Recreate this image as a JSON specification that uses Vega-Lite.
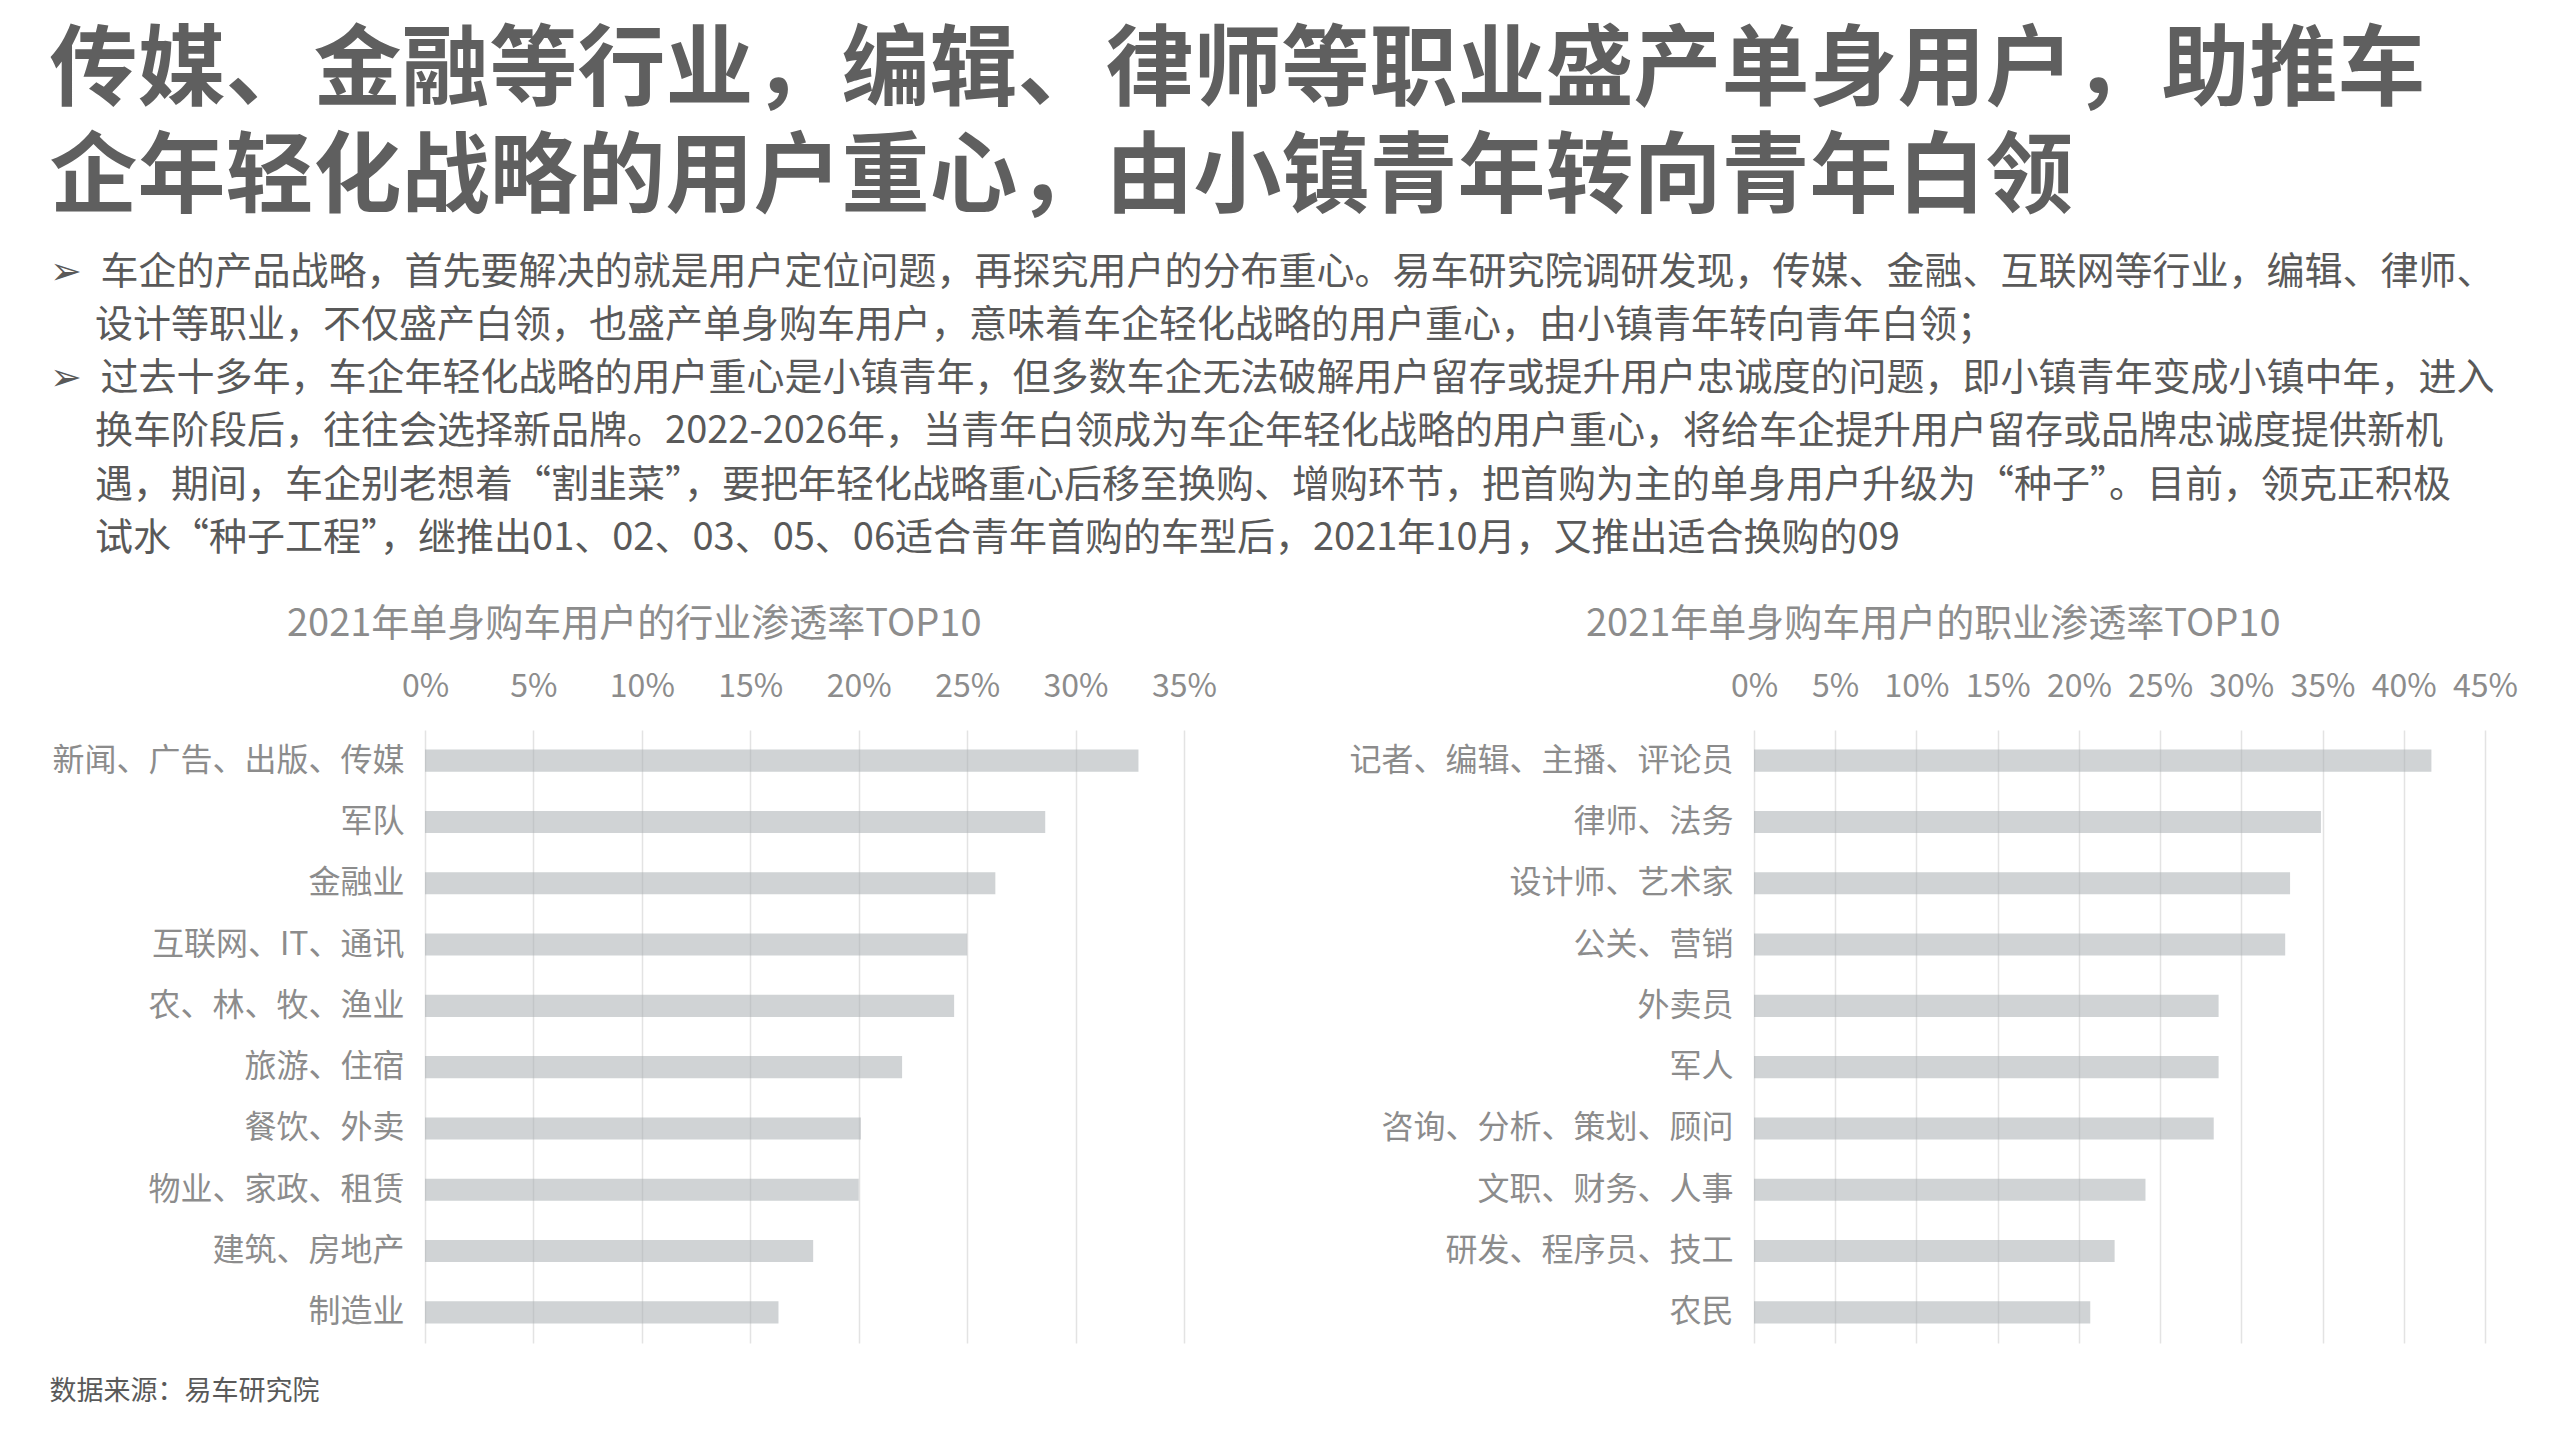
{
  "$schema": "https://vega.github.io/schema/vega-lite/v6.json",
  "padding": {"left": 49, "top": 27, "right": 10, "bottom": 10},
  "background": "white",
  "config": {
    "font": "Noto Sans CJK SC",
    "view": {"stroke": null},
    "axis": {"labelFont": "Noto Sans CJK SC", "titleFont": "Noto Sans CJK SC"}
  },
  "title": {
    "text": ["传媒、金融等行业，编辑、律师等职业盛产单身用户，助推车", "企年轻化战略的用户重心，由小镇青年转向青年白领"],
    "subtitle": [
      "➢\u2002车企的产品战略，首先要解决的就是用户定位问题，再探究用户的分布重心。易车研究院调研发现，传媒、金融、互联网等行业，编辑、律师、",
      "\u200b\u3000\u2009设计等职业，不仅盛产白领，也盛产单身购车用户，意味着车企轻化战略的用户重心，由小镇青年转向青年白领；",
      "➢\u2002过去十多年，车企年轻化战略的用户重心是小镇青年，但多数车企无法破解用户留存或提升用户忠诚度的问题，即小镇青年变成小镇中年，进入",
      "\u200b\u3000\u2009换车阶段后，往往会选择新品牌。2022-2026年，当青年白领成为车企年轻化战略的用户重心，将给车企提升用户留存或品牌忠诚度提供新机",
      "\u200b\u3000\u2009遇，期间，车企别老想着“割韭菜”，要把年轻化战略重心后移至换购、增购环节，把首购为主的单身用户升级为“种子”。目前，领克正积极",
      "\u200b\u3000\u2009试水“种子工程”，继推出01、02、03、05、06适合青年首购的车型后，2021年10月，又推出适合换购的09"
    ],
    "anchor": "start",
    "frame": "bounds",
    "font": "Noto Sans CJK SC",
    "fontSize": 88,
    "fontWeight": "bold",
    "color": "#5f5f5f",
    "lineHeight": 107,
    "subtitleFont": "Noto Sans CJK SC",
    "subtitleFontSize": 38,
    "subtitleColor": "#595959",
    "subtitleLineHeight": 53.3,
    "subtitlePadding": 31,
    "offset": 48
  },
  "vconcat": [
    {
      "bounds": "flush",
      "spacing": 570,
      "hconcat": [
        {
          "title": {"text": "2021年单身购车用户的行业渗透率TOP10", "fontSize": 38, "fontWeight": "normal", "color": "#8c8c8c", "anchor": "middle", "frame": "bounds", "offset": 26},
          "width": 759,
          "height": 613,
          "data": {"values": [
            {"industry": "新闻、广告、出版、传媒", "rate": 0.329},
            {"industry": "军队", "rate": 0.286},
            {"industry": "金融业", "rate": 0.263},
            {"industry": "互联网、IT、通讯", "rate": 0.250},
            {"industry": "农、林、牧、渔业", "rate": 0.244},
            {"industry": "旅游、住宿", "rate": 0.220},
            {"industry": "餐饮、外卖", "rate": 0.201},
            {"industry": "物业、家政、租赁", "rate": 0.200},
            {"industry": "建筑、房地产", "rate": 0.179},
            {"industry": "制造业", "rate": 0.163}
          ]},
          "mark": {"type": "bar", "color": "#a9aeb3", "opacity": 0.55},
          "encoding": {
            "y": {"field": "industry", "type": "nominal", "sort": null,
                  "scale": {"paddingInner": 0.64, "paddingOuter": 0.32},
                  "axis": {"title": null, "ticks": false, "domain": false, "grid": false, "labelFontSize": 32, "labelColor": "#8c8c8c", "labelPadding": 21, "labelLimit": 0}},
            "x": {"field": "rate", "type": "quantitative",
                  "scale": {"domain": [0, 0.35], "nice": false},
                  "axis": {"orient": "top", "title": null, "format": ".0%", "values": [0, 0.05, 0.1, 0.15, 0.2, 0.25, 0.3, 0.35], "ticks": false, "tickSize": 0, "domain": false, "grid": true, "gridColor": "#e3e3e3", "gridWidth": 1.5, "labelFontSize": 32, "labelColor": "#8c8c8c", "labelPadding": 27, "labelFlush": false}}
          }
        },
        {
          "title": {"text": "2021年单身购车用户的职业渗透率TOP10", "fontSize": 38, "fontWeight": "normal", "color": "#8c8c8c", "anchor": "middle", "frame": "bounds", "offset": 26},
          "width": 731,
          "height": 613,
          "data": {"values": [
            {"job": "记者、编辑、主播、评论员", "rate": 0.417},
            {"job": "律师、法务", "rate": 0.349},
            {"job": "设计师、艺术家", "rate": 0.330},
            {"job": "公关、营销", "rate": 0.327},
            {"job": "外卖员", "rate": 0.286},
            {"job": "军人", "rate": 0.286},
            {"job": "咨询、分析、策划、顾问", "rate": 0.283},
            {"job": "文职、财务、人事", "rate": 0.241},
            {"job": "研发、程序员、技工", "rate": 0.222},
            {"job": "农民", "rate": 0.207}
          ]},
          "mark": {"type": "bar", "color": "#a9aeb3", "opacity": 0.55},
          "encoding": {
            "y": {"field": "job", "type": "nominal", "sort": null,
                  "scale": {"paddingInner": 0.64, "paddingOuter": 0.32},
                  "axis": {"title": null, "ticks": false, "domain": false, "grid": false, "labelFontSize": 32, "labelColor": "#8c8c8c", "labelPadding": 21, "labelLimit": 0}},
            "x": {"field": "rate", "type": "quantitative",
                  "scale": {"domain": [0, 0.45], "nice": false},
                  "axis": {"orient": "top", "title": null, "format": ".0%", "values": [0, 0.05, 0.1, 0.15, 0.2, 0.25, 0.3, 0.35, 0.4, 0.45], "ticks": false, "tickSize": 0, "domain": false, "grid": true, "gridColor": "#e3e3e3", "gridWidth": 1.5, "labelFontSize": 32, "labelColor": "#8c8c8c", "labelPadding": 27, "labelFlush": false}}
          }
        }
      ]
    },
    {
      "width": 1,
      "height": 1,
      "data": {"values": [{"source": "数据来源：易车研究院"}]},
      "mark": {"type": "text", "align": "left", "baseline": "middle", "fontSize": 27, "color": "#595959", "dx": -376},
      "encoding": {"text": {"field": "source", "type": "nominal"}}
    }
  ],
  "spacing": 34
}
